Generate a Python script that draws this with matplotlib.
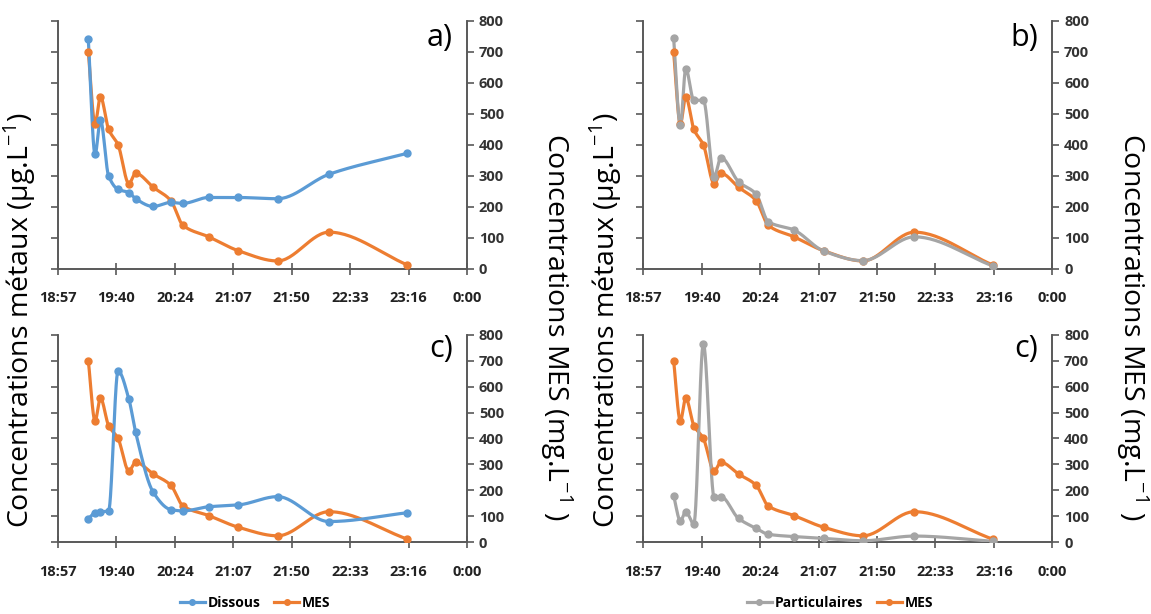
import numpy as np
from matplotlib import pyplot as plt
from matplotlib.lines import Line2D

plt.rcParams['font.family'] = ['Open Sans', 'DejaVu Sans']
plt.rcParams['mathtext.fontset'] = 'custom'
plt.rcParams['mathtext.rm'] = 'Open Sans'

# heures de prélèvement (communes à toutes les séries)
heures = ['19:20', '19:25', '19:29', '19:35', '19:42', '19:50', '19:55', '20:08',
          '20:21', '20:30', '20:49', '21:11', '21:40', '22:18', '23:16']

# MES (mg/L)
mes = [700, 468, 555, 450, 400, 275, 308, 263, 220, 140, 103, 58, 25, 118, 12]

# a) dissous
dissous_a = [741, 369, 480, 300, 256, 246, 226, 201, 214, 211, 230, 230, 226, 305, 373]
# b) particulaires
partic_b = [746, 463, 646, 544, 544, 297, 359, 281, 241, 152, 125, 57, 26, 103, 9]
# c) dissous
dissous_c = [90, 114, 117, 121, 660, 552, 424, 193, 126, 121, 137, 144, 176, 80, 114]
# c) particulaires
partic_c = [180, 83, 118, 71, 766, 173, 176, 92, 54, 31, 22, 15, 6, 24, 4]

xticks = [0.79, 0.82, 0.85, 0.88, 0.91, 0.94, 0.97, 1.00]
xlabels = ['18:57', '19:40', '20:24', '21:07', '21:50', '22:33', '23:16', '0:00']

BLEU = '#5B9BD5'
ORANGE = '#ED7D31'
GRIS = '#A5A5A5'
AXE = '#595959'


def en_jour(h):
    hh, mm = h.split(':')
    return (int(hh) * 60 + int(mm)) / 1440.0


x = np.array([en_jour(h) for h in heures])


def lisse(xs, ys, n=30):
    # courbe lissée (Hermite monotone) passant par les points
    xs = np.asarray(xs, float)
    ys = np.asarray(ys, float)
    h = np.diff(xs)
    d = np.diff(ys) / h
    m = np.zeros_like(ys)
    for k in range(1, len(xs) - 1):
        if d[k - 1] * d[k] > 0:
            w1 = 2 * h[k] + h[k - 1]
            w2 = h[k] + 2 * h[k - 1]
            m[k] = (w1 + w2) / (w1 / d[k - 1] + w2 / d[k])
    m[0] = d[0]
    m[-1] = d[-1]
    ox, oy = [], []
    for k in range(len(xs) - 1):
        t = np.linspace(0, 1, n, endpoint=False)
        h00 = 2 * t ** 3 - 3 * t ** 2 + 1
        h10 = t ** 3 - 2 * t ** 2 + t
        h01 = -2 * t ** 3 + 3 * t ** 2
        h11 = t ** 3 - t ** 2
        ox.extend(xs[k] + t * h[k])
        oy.extend(h00 * ys[k] + h10 * h[k] * m[k] + h01 * ys[k + 1] + h11 * h[k] * m[k + 1])
    ox.append(xs[-1])
    oy.append(ys[-1])
    return ox, oy


def trace(ax, ys, color):
    sx, sy = lisse(x, ys)
    ax.plot(sx, sy, color=color, lw=2.3, solid_capstyle='round', zorder=3)
    ax.plot(x, ys, 'o', color=color, ms=5, zorder=4)


def panneau(rect, metal, couleur, lettre):
    ax = fig.add_axes(rect)
    ax2 = ax.twinx()
    ax.set_zorder(ax2.get_zorder() + 1)
    ax.patch.set_visible(False)
    trace(ax, mes, ORANGE)
    trace(ax, metal, couleur)
    for a in (ax, ax2):
        a.set_xlim(0.79, 1.00)
        a.set_ylim(0, 800)
        a.set_yticks(range(0, 801, 100))
        a.spines['top'].set_visible(False)
        for s in a.spines.values():
            s.set_color(AXE)
            s.set_linewidth(1.2)
        a.tick_params(colors=AXE, width=1.2, length=5, direction='out')
    ax.set_xticks(xticks)
    ax.set_xticklabels(xlabels, fontsize=10.5, fontweight='bold', color='#222222')
    ax.set_yticklabels([])
    ax2.set_yticklabels([str(v) for v in range(0, 801, 100)], fontsize=10.5,
                        fontweight='bold', color='#333333')
    ax.tick_params(axis='x', direction='inout', length=8, pad=12)
    ax.text(0.965, 0.93, lettre, transform=ax.transAxes, fontsize=22,
            ha='right', va='center', color='black')
    return ax


fig = plt.figure(figsize=(11.51, 6.14), dpi=100)

W = 409 / 1151
panneau([58 / 1151, 1 - 268.7 / 614, W, 247.7 / 614], dissous_a, BLEU, 'a)')
panneau([643.3 / 1151, 1 - 268.7 / 614, W, 247.7 / 614], partic_b, GRIS, 'b)')
panneau([58 / 1151, 1 - 542.3 / 614, W, 207.6 / 614], dissous_c, BLEU, 'c)')
panneau([643.3 / 1151, 1 - 542.3 / 614, W, 207.6 / 614], partic_c, GRIS, 'c)')

# titres des axes
for xc in (20, 606):
    fig.text(xc / 1151, 1 - 320 / 614, r'Concentrations métaux (µg.L$^{\mathrm{-1}}$)',
             rotation=90, ha='center', va='center', fontsize=20.5)
for xc in (556, 1132):
    fig.text(xc / 1151, 1 - 327 / 614, r'Concentrations MES (mg.L$^{\mathrm{-1}}$ )',
             rotation=270, ha='center', va='center', fontsize=20.5)


def poignee(c):
    return Line2D([], [], color=c, lw=2.3, marker='o', ms=4)


fig.legend([poignee(BLEU), poignee(ORANGE)], ['Dissous', 'MES'],
           loc='center', bbox_to_anchor=(255 / 1151, 1 - 603 / 614), ncol=2,
           frameon=False, handlelength=1.8, columnspacing=1.0, handletextpad=0.2,
           prop={'weight': 'bold', 'size': 10})
fig.legend([poignee(GRIS), poignee(ORANGE)], ['Particulaires', 'MES'],
           loc='center', bbox_to_anchor=(840 / 1151, 1 - 603 / 614), ncol=2,
           frameon=False, handlelength=1.8, columnspacing=1.0, handletextpad=0.2,
           prop={'weight': 'bold', 'size': 10})

fig.savefig('out.png', dpi=100)
